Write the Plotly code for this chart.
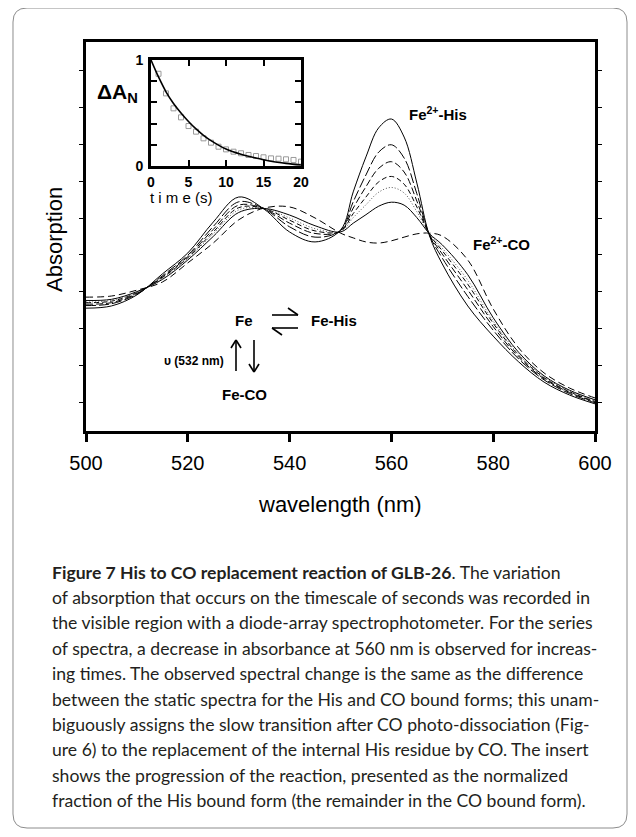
import plotly.graph_objects as go

# spectra (arbitrary absorption units)
wavelength = [500, 505, 510, 515, 520, 525, 530, 535, 540, 545, 550, 552.5, 555,
              557.5, 560, 562.5, 565, 567.5, 570, 575, 580, 585, 590, 595, 600]
abs_his = [0.455, 0.461, 0.491, 0.548, 0.605, 0.689, 0.757, 0.724, 0.662, 0.635, 0.667, 0.771, 0.866,
           0.945, 0.969, 0.920, 0.795, 0.651, 0.575, 0.461, 0.379, 0.309, 0.254, 0.219, 0.195]
abs_t1 = [0.462, 0.467, 0.493, 0.543, 0.599, 0.677, 0.744, 0.725, 0.676, 0.648, 0.666, 0.744, 0.817,
          0.879, 0.899, 0.863, 0.766, 0.653, 0.591, 0.487, 0.395, 0.317, 0.260, 0.223, 0.198]
abs_t2 = [0.466, 0.470, 0.495, 0.540, 0.595, 0.669, 0.735, 0.725, 0.686, 0.658, 0.664, 0.727, 0.785,
          0.835, 0.853, 0.825, 0.746, 0.654, 0.602, 0.505, 0.405, 0.322, 0.263, 0.226, 0.200]
abs_t3 = [0.470, 0.474, 0.497, 0.538, 0.592, 0.662, 0.728, 0.726, 0.694, 0.665, 0.664, 0.712, 0.757,
          0.798, 0.813, 0.792, 0.730, 0.655, 0.611, 0.520, 0.414, 0.327, 0.266, 0.228, 0.202]
abs_t4 = [0.472, 0.476, 0.498, 0.536, 0.590, 0.657, 0.722, 0.726, 0.700, 0.671, 0.663, 0.701, 0.736,
          0.770, 0.783, 0.768, 0.717, 0.656, 0.618, 0.531, 0.420, 0.330, 0.268, 0.230, 0.204]
abs_t5 = [0.476, 0.479, 0.500, 0.533, 0.586, 0.650, 0.715, 0.726, 0.708, 0.679, 0.662, 0.686, 0.709,
          0.732, 0.743, 0.735, 0.701, 0.657, 0.627, 0.546, 0.429, 0.335, 0.271, 0.232, 0.206]
abs_co = [0.485, 0.488, 0.504, 0.526, 0.578, 0.632, 0.695, 0.727, 0.730, 0.700, 0.659, 0.646, 0.635,
          0.632, 0.638, 0.648, 0.657, 0.659, 0.651, 0.586, 0.453, 0.347, 0.279, 0.238, 0.211]

# inset: normalized His fraction vs time
t_obs = list(range(1, 21))
an_obs = [0.87, 0.685, 0.544, 0.459, 0.377, 0.324, 0.261, 0.22, 0.182, 0.157,
          0.135, 0.12, 0.104, 0.094, 0.082, 0.072, 0.069, 0.063, 0.057, 0.041]
t_fit = [0, 1, 2, 3, 4, 5, 6, 7, 8, 10, 12, 14, 16, 18, 20]
an_fit = [1.0, 0.84, 0.70, 0.59, 0.50, 0.42, 0.35, 0.29, 0.24, 0.16, 0.11, 0.075, 0.045, 0.025, 0.01]

# the page body keeps its default 8px margin, so the figure is drawn 8px in
OFF = 8
W, H = 636 - 2 * OFF, 837 - 2 * OFF
# plot area in page pixels
L, R, T, B = 86, 595, 42, 431


def pp(x, y):
    """page pixel position -> paper coords"""
    return (x - L) / (R - L), (B - y) / (B - T)


AX_FONT = "Liberation Sans, Arial, sans-serif"

fig = go.Figure()

series = [
    (abs_his, "solid", "black"),
    (abs_t1, "10px,3px", "black"),
    (abs_t2, "7px,3px", "black"),
    (abs_t3, "5px,3px", "black"),
    (abs_t4, "1px,2px", "#555"),
    (abs_t5, "solid", "black"),
    (abs_co, "7px,4px", "black"),
]
for ys, dash, col in series:
    fig.add_trace(go.Scatter(x=wavelength, y=ys, mode="lines",
                             line=dict(color=col, width=1, dash=dash, shape="spline"),
                             showlegend=False, hoverinfo="skip"))

fig.add_trace(go.Scatter(x=t_obs, y=an_obs, mode="markers", xaxis="x2", yaxis="y2",
                         marker=dict(symbol="square-open", size=5, color="#9a9a9a",
                                     line=dict(width=1)),
                         showlegend=False, cliponaxis=False))
fig.add_trace(go.Scatter(x=t_fit, y=an_fit, mode="lines", xaxis="x2", yaxis="y2",
                         line=dict(color="black", width=1.6, shape="spline"),
                         showlegend=False))

ix0, iy0 = pp(151, 166)
ix1, iy1 = pp(301, 60)

fig.update_layout(
    width=W, height=H,
    margin=dict(l=L - OFF, r=W + OFF - R, t=T - OFF, b=H + OFF - B),
    paper_bgcolor="white", plot_bgcolor="white",
    font=dict(family=AX_FONT, color="black"),
    xaxis=dict(range=[500, 600], tickvals=[500, 520, 540, 560, 580, 600],
               showline=True, linewidth=3, linecolor="black", mirror=True,
               ticks="outside", ticklen=8, tickwidth=3, tickcolor="black",
               ticklabelstandoff=4, tickfont=dict(size=20),
               showgrid=False, zeroline=False),
    yaxis=dict(range=[0.1212, 1.1783], tick0=0.2, dtick=0.1,
               showline=True, linewidth=3, linecolor="black", mirror="ticks",
               ticks="outside", ticklen=4, tickwidth=1, tickcolor="black",
               showticklabels=False, showgrid=False, zeroline=False),
    xaxis2=dict(domain=[ix0, ix1], anchor="y2", range=[0, 20],
                tickvals=[0, 5, 10, 15, 20],
                showline=True, linewidth=3, linecolor="black", mirror="ticks",
                ticks="inside", ticklen=6, tickwidth=2, tickcolor="black",
                tickfont=dict(size=14, weight="bold"), ticklabelstandoff=1,
                showgrid=False, zeroline=False),
    yaxis2=dict(domain=[iy0, iy1], anchor="x2", range=[0, 1],
                tickvals=[0, 0.2, 0.4, 0.6, 0.8, 1.0],
                ticktext=["0", "", "", "", "", "1"],
                showline=True, linewidth=3, linecolor="black", mirror="ticks",
                ticks="inside", ticklen=6, tickwidth=2, tickcolor="black",
                tickfont=dict(size=14, weight="bold"), ticklabelstandoff=2,
                showgrid=False, zeroline=False),
)

ann = []


def text(x, y, s, size, bold=False, xanchor="center", angle=0, family=AX_FONT, color="black"):
    px, py = pp(x, y)
    ann.append(dict(x=px, y=py, xref="paper", yref="paper", text=s, showarrow=False,
                    xanchor=xanchor, yanchor="middle", textangle=angle,
                    font=dict(size=size, family=family, color=color,
                              weight="bold" if bold else "normal")))


text(340, 505, "wavelength (nm)", 22)
text(55, 240, "Absorption", 22, angle=-90)
text(117, 93, "ΔA<sub>N</sub>", 21, bold=True)
text(181, 197, "t i m e (s)", 15)
text(407, 113, "Fe<sup>2+</sup>-His", 15, bold=True, xanchor="left")
text(471, 243, "Fe<sup>2+</sup>-CO", 15, bold=True, xanchor="left")
text(244, 320, "Fe", 15, bold=True)
text(309, 320, "Fe-His", 15, bold=True, xanchor="left")
text(244, 394, "Fe-CO", 15, bold=True)
text(226, 361, "υ (532 nm)", 12, bold=True, xanchor="right")

CAP_FONT = "Lato, sans-serif"
caption = [
    "<b>Figure 7 His to CO replacement reaction of GLB-26</b>. The variation",
    "of absorption that occurs on the timescale of seconds was recorded in",
    "the visible region with a diode-array spectrophotometer. For the series",
    "of spectra, a decrease in absorbance at 560 nm is observed for increas-",
    "ing times. The observed spectral change is the same as the difference",
    "between the static spectra for the His and CO bound forms; this unam-",
    "biguously assigns the slow transition after CO photo-dissociation (Fig-",
    "ure 6) to the replacement of the internal His residue by CO. The insert",
    "shows the progression of the reaction, presented as the normalized",
    "fraction of the His bound form (the remainder in the CO bound form).",
]
for i, line in enumerate(caption):
    text(50, 572 + i * 25.4, line, 17.6, xanchor="left", family=CAP_FONT, color="#231f20")

fig.update_layout(annotations=ann)

# reaction scheme arrows
shapes = []


def seg(x0, y0, x1, y1, w=1.6):
    a, b = pp(x0, y0)
    c, d = pp(x1, y1)
    shapes.append(dict(type="line", xref="paper", yref="paper", x0=a, y0=b, x1=c, y1=d,
                       line=dict(color="black", width=w)))


seg(272, 315, 298, 315)
seg(298, 315, 288, 308)
seg(272, 328, 298, 328)
seg(272, 328, 282, 335)
seg(236, 371, 236, 340)
seg(236, 340, 231, 348)
seg(236, 340, 241, 348)
seg(254, 340, 254, 372)
seg(254, 372, 249, 364)
seg(254, 372, 259, 364)

# rounded frame around the figure
x0, y0, x1, y1, r = 13, 8, 627, 828, 14
pts = [("M", x0 + r, y0), ("L", x1 - r, y0), ("Q", x1, y0, x1, y0 + r), ("L", x1, y1 - r),
       ("Q", x1, y1, x1 - r, y1), ("L", x0 + r, y1), ("Q", x0, y1, x0, y1 - r),
       ("L", x0, y0 + r), ("Q", x0, y0, x0 + r, y0)]
path = ""
for p in pts:
    cmd, coords = p[0], p[1:]
    parts = []
    for k in range(0, len(coords), 2):
        a, b = pp(coords[k], coords[k + 1])
        parts.append(f"{a:.5f},{b:.5f}")
    path += cmd + " ".join(parts) + " "
path += "Z"
shapes.append(dict(type="path", xref="paper", yref="paper", path=path,
                   line=dict(color="#8c8c8c", width=1), layer="below"))

fig.update_layout(shapes=shapes)

fig.write_html("out.html")
